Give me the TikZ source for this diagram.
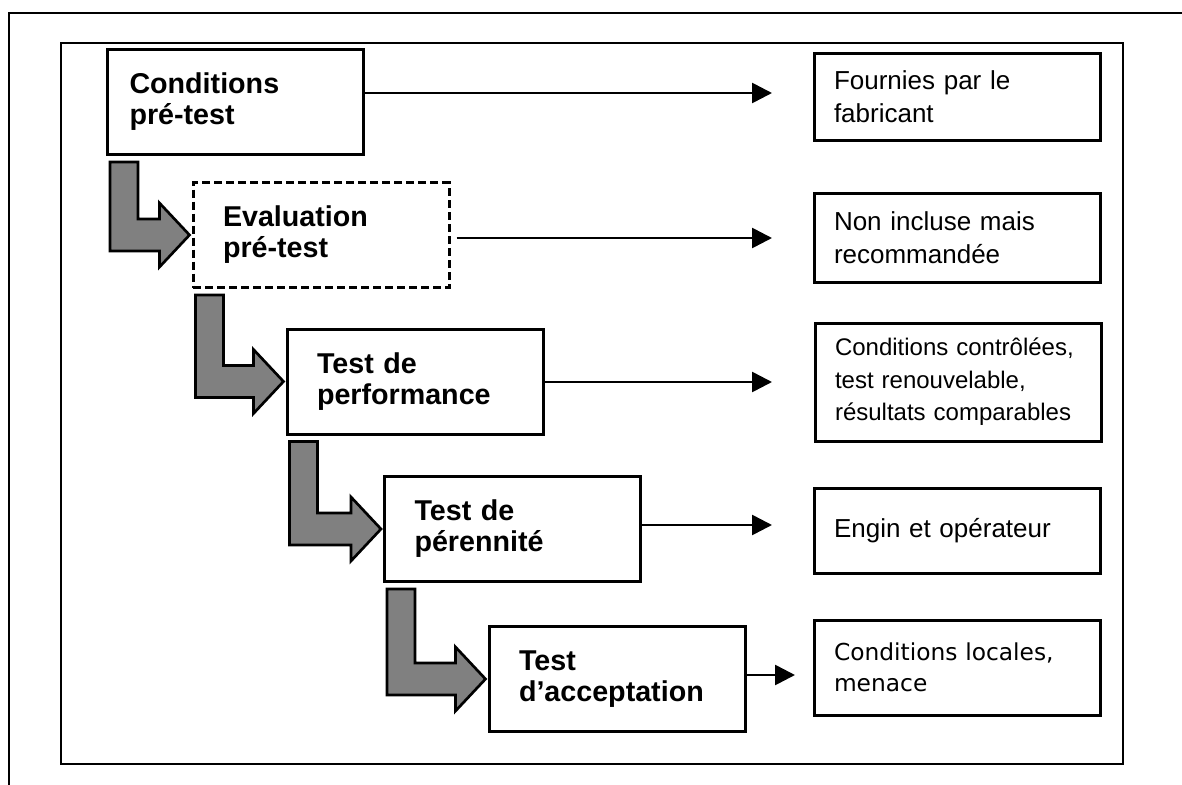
\documentclass[tikz,border=0pt]{standalone}
\usepackage{fontspec}
\setmainfont{Liberation Sans}
\newfontfamily\sysfont{DejaVu Sans}
\usetikzlibrary{arrows.meta, calc}

\tikzset{
  stage/.style={draw, line width=2.25pt, minimum width=192pt, minimum height=78.75pt,
    text width=147pt, inner xsep=22.5pt, align=left,
    font=\fontsize{21.5}{23.25}\selectfont\bfseries},
  note/.style={draw, line width=2.25pt, minimum width=214.5pt,
    text width=184.5pt, inner xsep=15pt, align=left,
    font=\fontsize{19.5}{24.75}\selectfont},
  link/.style={line width=2pt, -{Triangle[length=15pt,width=15pt]}},
  bigarrow/.style={draw, line width=2pt, fill=gray, line join=miter}
}

\begin{document}
\begin{tikzpicture}[x=0.75pt, y=-0.75pt]
  \useasboundingbox (0,0) rectangle (1182,785);

  % Frames
  \draw[line width=1.1pt] (9,785) -- (9,13) -- (1182,13);
  \draw[line width=1.5pt] (61,43) rectangle (1123,764);

  % Stages
  \node[stage, text width=159pt, inner xsep=16.5pt] (pre) at (235.5,102) {Conditions\\pré-test};
  \node[stage, dash pattern=on 6pt off 3pt] (eval) at (321,235) {Evaluation\\pré-test};
  \node[stage] (perf) at (415,381.5) {Test de\\performance};
  \node[stage] (dur) at (512.5,529) {Test de\\pérennité};
  \node[stage] (acc) at (617,679) {Test\\d’acceptation};

  % Notes
  \node[note, minimum height=65.25pt] (supply) at (957,96.5) {Fournies par le\\fabricant};
  \node[note, minimum height=66.75pt] (advice) at (957,237.5) {Non incluse mais\\recommandée};
  \node[note, minimum height=88.5pt, font=\fontsize{18}{24.4}\selectfont] (lab) at (958,382)
    {Conditions contrôlées,\\test renouvelable,\\résultats comparables};
  \node[note, minimum height=63.75pt] (crew) at (957,530.5) {Engin et opérateur};
  \node[note, minimum height=71.25pt, font=\sysfont\fontsize{17.5}{23.25}\selectfont] (local) at (957,667.5)
    {Conditions locales,\\menace};

  % Arrow tips
  \coordinate (t1) at (772,93);
  \coordinate (t2) at (772,238);
  \coordinate (t3) at (772,382);
  \coordinate (t4) at (772,525);
  \coordinate (t5) at (795,675);

  % Links
  \draw[link] (pre.east |- t1) -- (t1);
  \draw[link, shorten <=4.5pt] (eval.east |- t2) -- (t2);
  \draw[link] (perf.east |- t3) -- (t3);
  \draw[link] (dur.east |- t4) -- (t4);
  \draw[link] (acc.east |- t5) -- (t5);

  % Bent arrows
  \foreach \a/\b in {pre/eval, eval/perf, perf/dur, dur/acc}{
    \draw[bigarrow]
      ($(\a.south west)+(4,6)$) -- ++(28,0)
      -- ($(\a.south west |- \b.west)+(32,-16)$)
      -- ($(\b.west)+(-32,-16)$)
      -- ($(\b.west)+(-32,-32)$)
      -- ($(\b.west)+(-2,0)$)
      -- ($(\b.west)+(-32,32)$)
      -- ($(\b.west)+(-32,16)$)
      -- ($(\a.south west |- \b.west)+(4,16)$)
      -- cycle;
  }
\end{tikzpicture}
\end{document}
